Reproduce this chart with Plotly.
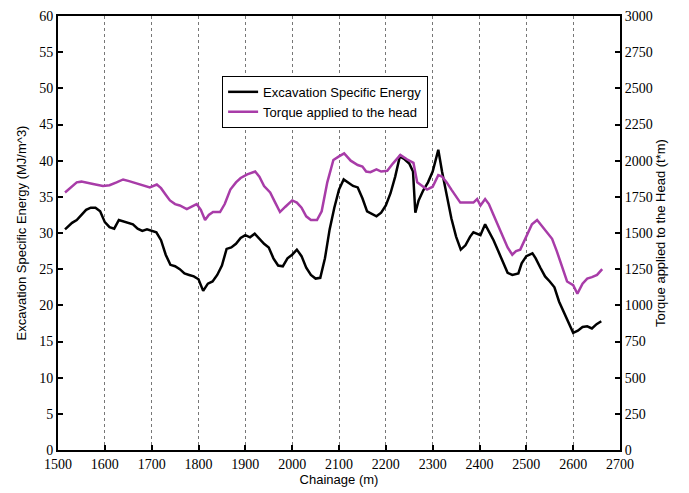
import plotly.graph_objects as go

chainage_ese = [1515,1530,1540,1550,1560,1570,1580,1590,1600,1610,1620,1630,1640,1650,1660,1670,1680,1690,1700,1710,
                1720,1730,1740,1750,1760,1770,1780,1790,1800,1810,1820,1830,1840,1850,1860,1870,1880,1890,1900,1910,
                1920,1930,1940,1950,1960,1970,1980,1990,2000,2010,2020,2030,2040,2050,2060,2070,2080,2090,2100,2110,
                2120,2130,2140,2150,2160,2170,2180,2190,2200,2210,2220,2230,2240,2250,2258,2263,2270,2280,2290,2300,
                2312,2320,2330,2340,2350,2360,2370,2380,2387,2402,2412,2420,2430,2440,2450,2460,2470,2483,2490,2500,
                2513,2520,2530,2540,2550,2560,2570,2580,2590,2600,2610,2620,2630,2640,2650,2660]
ese = [30.5,31.4,31.8,32.5,33.2,33.5,33.5,33,31.5,30.8,30.6,31.8,31.6,31.5,31.2,30.6,30.3,30.5,30.3,30.1,
       29,27,25.6,25.4,25,24.4,24.2,24,23.6,22,23,23.3,24.2,25.5,27.8,28,28.5,29.3,29.7,29.4,
       29.9,29.2,28.5,28,26.5,25.5,25.4,26.5,27,27.7,26.8,25.2,24.2,23.7,23.8,26.5,30.5,33.5,36,37.4,
       37,36.5,36.3,34.8,33,32.6,32.3,32.8,33.8,35.5,37.8,40.6,40.2,39.6,38.5,32.8,34.5,35.9,37,38.5,
       41.5,38.5,35,32,29.5,27.7,28.3,29.5,30.1,29.7,31.2,30.3,29,27.5,26,24.5,24.2,24.4,25.8,26.8,
       27.2,26.5,25.2,24,23.3,22.5,20.5,19,17.5,16.2,16.5,17,17.1,16.8,17.4,17.8]

chainage_torque = [1515,1530,1540,1550,1560,1570,1580,1596,1610,1625,1639,1650,1660,1670,1685,1696,1711,1720,1730,1739,
                   1750,1760,1775,1785,1796,1805,1814,1822,1831,1846,1856,1868,1880,1890,1904,1921,1930,1940,1953,1963,
                   1974,1985,2000,2010,2020,2030,2040,2053,2063,2075,2088,2100,2111,2125,2140,2150,2158,2167,2180,2190,
                   2203,2215,2231,2245,2259,2267,2278,2288,2300,2312,2320,2330,2340,2350,2359,2375,2387,2395,2402,2412,
                   2420,2430,2440,2450,2460,2470,2478,2487,2500,2512,2523,2535,2545,2555,2565,2575,2587,2600,2609,2620,
                   2630,2640,2651,2662]
torque = [1780,1825,1850,1855,1850,1845,1835,1825,1830,1850,1870,1860,1850,1840,1825,1815,1835,1810,1765,1725,
          1700,1690,1665,1680,1700,1660,1590,1625,1645,1645,1700,1800,1850,1880,1905,1925,1890,1825,1780,1715,
          1645,1680,1725,1710,1675,1615,1590,1590,1650,1850,2005,2030,2050,2000,1970,1960,1925,1920,1940,1925,
          1930,1980,2040,2010,1985,1850,1825,1800,1820,1900,1890,1850,1800,1750,1710,1710,1710,1735,1690,1735,
          1700,1625,1550,1475,1400,1350,1375,1385,1475,1560,1590,1540,1500,1460,1375,1275,1165,1140,1080,1150,
          1185,1195,1210,1250]

x_ticks = list(range(1500, 2701, 100))
y_ticks = list(range(0, 61, 5))
y2_ticks = list(range(0, 3001, 250))

fig = go.Figure()
fig.add_trace(go.Scatter(x=chainage_ese, y=ese, mode="lines", name="Excavation Specific Energy",
                         line=dict(color="black", width=2.5)))
fig.add_trace(go.Scatter(x=chainage_torque, y=torque, mode="lines", name="Torque applied to the head",
                         line=dict(color="#a83ca8", width=2.5), yaxis="y2"))

tickfont = dict(family="Liberation Serif, Times New Roman, serif", size=14, color="black")
titlefont = dict(family="Liberation Sans, Arial, sans-serif", size=13, color="black")

fig.update_layout(
    width=681, height=485,
    margin=dict(l=50, r=69, t=8, b=43),
    paper_bgcolor="white", plot_bgcolor="white",
    showlegend=True,
    legend=dict(x=0.292, y=0.862, xanchor="left", yanchor="top",
                bordercolor="black", borderwidth=1, bgcolor="white",
                font=dict(family="Liberation Sans, Arial, sans-serif", size=13, color="black"),
                tracegroupgap=0, itemwidth=30),
    xaxis=dict(range=[1500, 2700], tickvals=x_ticks, ticktext=[str(v) for v in x_ticks],
               showgrid=True, gridcolor="#777777", griddash="dot", gridwidth=1,
               showline=True, linecolor="black", linewidth=2, mirror=True,
               ticks="inside", ticklen=5, tickwidth=2, tickcolor="black",
               tickfont=tickfont, zeroline=False, automargin=False, ticklabeloverflow="allow",
               title=dict(text="Chainage (m)", font=titlefont, standoff=3)),
    yaxis=dict(range=[0, 60], tickvals=y_ticks, showgrid=False, zeroline=False,
               showline=True, linecolor="black", linewidth=2, automargin=False,
               ticks="inside", ticklen=5, tickwidth=2, tickcolor="black",
               tickfont=tickfont, ticklabeloverflow="allow",
               title=dict(text="Excavation Specific Energy (MJ/m^3)", font=titlefont, standoff=10)),
    yaxis2=dict(range=[0, 3000], tickvals=y2_ticks, overlaying="y", side="right",
                showgrid=False, zeroline=False, automargin=False,
                showline=True, linecolor="black", linewidth=2,
                ticks="inside", ticklen=5, tickwidth=2, tickcolor="black",
                tickfont=tickfont, ticklabeloverflow="allow",
                title=dict(text="Torque applied to the Head (t*m)", font=titlefont, standoff=4)),
)

fig.write_html("out.html")
